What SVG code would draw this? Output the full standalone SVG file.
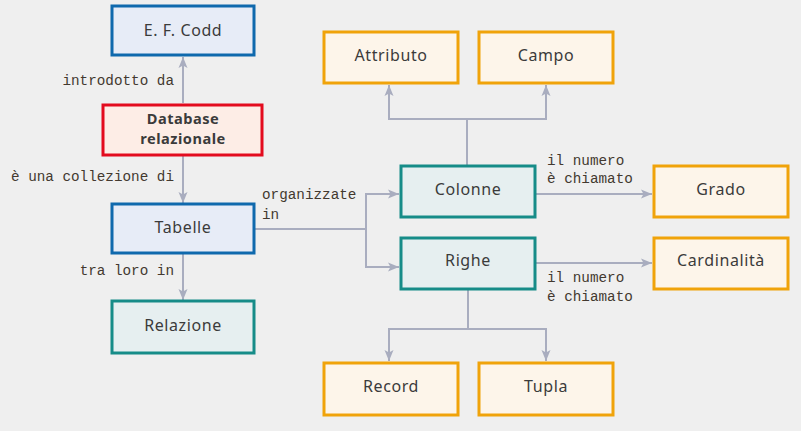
<svg xmlns="http://www.w3.org/2000/svg" width="801" height="431" viewBox="0 0 801 431">
<defs>
<marker id="ah" markerUnits="userSpaceOnUse" markerWidth="12" markerHeight="10" refX="11" refY="5" orient="auto">
<path d="M0,0.5 L11,5 L0,9.5 L2.5,5 Z" fill="#a9adbf"/>
</marker>
<style>
.bg{fill:#efefef}
.blue rect{fill:#e7ecf7;stroke:#0f69ad;stroke-width:3}
.red rect{fill:#fdede6;stroke:#e30b1e;stroke-width:3}
.teal rect{fill:#e6eff0;stroke:#168c88;stroke-width:3}
.orange rect{fill:#fdf5ea;stroke:#f0a30a;stroke-width:3}
.nt{font-family:"Noto Sans","Open Sans",sans-serif;font-size:16px;letter-spacing:0.6px;fill:#3b3b3b;text-anchor:middle}
.bold{font-weight:bold;font-size:14.6px;letter-spacing:0.5px}
.lbl{font-family:"Liberation Mono","DejaVu Sans Mono",monospace;font-size:14.3px;fill:#43392f}
.conn path{fill:none;stroke:#a9adbf;stroke-width:2}
</style>
</defs>
<rect class="bg" x="0" y="0" width="801" height="431"/>
<g class="conn">
<path d="M183,103 V57" marker-end="url(#ah)"/>
<path d="M183,156 V203" marker-end="url(#ah)"/>
<path d="M183,254 V300" marker-end="url(#ah)"/>
<path d="M255,229 H366"/>
<path d="M366,229 V194 H399" marker-end="url(#ah)"/>
<path d="M366,229 V267 H399" marker-end="url(#ah)"/>
<path d="M467,165 V119"/>
<path d="M467,119 H389 V85" marker-end="url(#ah)"/>
<path d="M467,119 H546 V85" marker-end="url(#ah)"/>
<path d="M536,194 H652" marker-end="url(#ah)"/>
<path d="M536,263 H652" marker-end="url(#ah)"/>
<path d="M468,290 V329"/>
<path d="M468,329 H389 V361" marker-end="url(#ah)"/>
<path d="M468,329 H546 V361" marker-end="url(#ah)"/>
</g>
<g class="lbl">
<text x="174" y="85" text-anchor="end">introdotto da</text>
<text x="174" y="181" text-anchor="end">è una collezione di</text>
<text x="174" y="275" text-anchor="end">tra loro in</text>
<text x="262" y="199">organizzate</text>
<text x="262" y="219">in</text>
<text x="547" y="165">il numero</text>
<text x="547" y="183">è chiamato</text>
<text x="547" y="282">il numero</text>
<text x="547" y="301">è chiamato</text>
</g>
<g id="codd" class="blue"><rect x="112" y="6" width="142" height="49"/><text class="nt" x="183" y="36">E. F. Codd</text></g>
<g id="database" class="red"><rect x="103" y="105" width="159" height="50"/><text class="nt bold" x="183" y="124">Database</text><text class="nt bold" x="183" y="144">relazionale</text></g>
<g id="tabelle" class="blue"><rect x="112" y="204" width="142" height="49"/><text class="nt" x="183" y="233">Tabelle</text></g>
<g id="relazione" class="teal"><rect x="112" y="301" width="142" height="52"/><text class="nt" x="183" y="331">Relazione</text></g>
<g id="attributo" class="orange"><rect x="324" y="32" width="134" height="51"/><text class="nt" x="391" y="61">Attributo</text></g>
<g id="campo" class="orange"><rect x="479" y="32" width="134" height="51"/><text class="nt" x="546" y="61">Campo</text></g>
<g id="colonne" class="teal"><rect x="401" y="166" width="134" height="51"/><text class="nt" x="468" y="195">Colonne</text></g>
<g id="righe" class="teal"><rect x="401" y="238" width="134" height="51"/><text class="nt" x="468" y="266">Righe</text></g>
<g id="grado" class="orange"><rect x="654" y="166" width="134" height="51"/><text class="nt" x="721" y="195">Grado</text></g>
<g id="cardinalita" class="orange"><rect x="654" y="238" width="134" height="51"/><text class="nt" x="721" y="266">Cardinalità</text></g>
<g id="record" class="orange"><rect x="324" y="363" width="134" height="52"/><text class="nt" x="391" y="392">Record</text></g>
<g id="tupla" class="orange"><rect x="479" y="363" width="134" height="52"/><text class="nt" x="546" y="392">Tupla</text></g>
</svg>
